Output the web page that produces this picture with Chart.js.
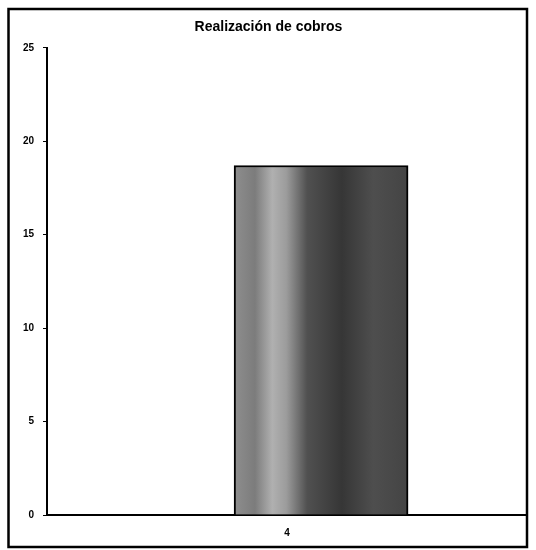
<!DOCTYPE html>
<html>
<head>
<meta charset="utf-8">
<script src="https://cdn.jsdelivr.net/npm/chart.js@4"></script>
<style>
html,body{margin:0;padding:0;background:#fff;}
#wrap{width:536px;height:550px;position:relative;}
</style>
</head>
<body>
<div id="wrap"><canvas id="c" width="536" height="550"></canvas></div>
<script>
const title = 'Realización de cobros';
const categories = ['4'];
const values = [18.7];
const yTicks = [0, 5, 10, 15, 20, 25];

const BAR_W = 174;
const BAR_SHIFT = 0.071; // visual offset of the bar from its label, as in the scan

const frame = {
  id: 'frame',
  afterDraw(chart) {
    const ctx = chart.ctx;
    ctx.save();
    ctx.strokeStyle = '#000';
    ctx.lineWidth = 2.5;
    ctx.strokeRect(8.5, 9, 518.5, 538);
    ctx.restore();
  }
};

function barFill(context) {
  const chart = context.chart;
  const xs = chart.scales && chart.scales.x;
  if (!xs || !chart.chartArea) return '#555';
  const cx = xs.getPixelForValue(context.parsed ? context.parsed.x : BAR_SHIFT);
  const l = cx - BAR_W / 2, r = cx + BAR_W / 2;
  const g = chart.ctx.createLinearGradient(l, 0, r, 0);
  g.addColorStop(0.00, '#8e8e8e');
  g.addColorStop(0.12, '#7c7c7c');
  g.addColorStop(0.22, '#b0b0b0');
  g.addColorStop(0.30, '#9c9c9c');
  g.addColorStop(0.42, '#505050');
  g.addColorStop(0.62, '#363636');
  g.addColorStop(0.80, '#4e4e4e');
  g.addColorStop(1.00, '#444');
  return g;
}

new Chart(document.getElementById('c'), {
  type: 'bar',
  data: {
    datasets: [{
      data: values.map((v, i) => ({ x: i + BAR_SHIFT, y: v })),
      backgroundColor: barFill,
      borderColor: '#000',
      borderWidth: 2,
      barThickness: BAR_W,
      borderSkipped: 'bottom'
    }]
  },
  plugins: [frame],
  options: {
    responsive: false,
    animation: false,
    events: [],
    layout: { padding: { left: 10, right: 9, top: 10, bottom: 0 } },
    plugins: {
      legend: { display: false },
      tooltip: { enabled: false },
      title: {
        display: true,
        text: title,
        color: '#000',
        font: { family: 'Liberation Sans, Arial, sans-serif', size: 14, weight: 'bold' },
        padding: { top: 9, bottom: 12 }
      }
    },
    scales: {
      x: {
        type: 'linear',
        min: -0.5,
        max: 0.5,
        offset: false,
        afterBuildTicks: s => { s.ticks = categories.map((c, i) => ({ value: i })); },
        afterFit: s => { s.height = 35; },
        ticks: {
          color: '#000',
          padding: 12,
          font: { family: 'Liberation Sans, Arial, sans-serif', size: 10, weight: 'bold' },
          callback: (v) => categories[Math.round(v)]
        },
        grid: { display: false, drawTicks: false },
        border: { display: true, color: '#000', width: 2 }
      },
      y: {
        min: 0,
        max: 25,
        afterBuildTicks: s => { s.ticks = yTicks.map(v => ({ value: v })); },
        afterFit: s => { s.width = 37; },
        ticks: {
          color: '#000',
          padding: 9,
          font: { family: 'Liberation Sans, Arial, sans-serif', size: 10, weight: 'bold' }
        },
        grid: { display: true, drawOnChartArea: false, drawTicks: true, tickLength: 4, color: '#000', lineWidth: 1 },
        border: { display: true, color: '#000', width: 2 }
      },
      y2: {
        position: 'right',
        display: true,
        min: 0, max: 25,
        afterFit: s => { s.width = 0; },
        ticks: { display: false },
        grid: { display: false, drawTicks: false },
        border: { display: true, color: '#000', width: 2 }
      }
    }
  }
});
</script>
</body>
</html>
